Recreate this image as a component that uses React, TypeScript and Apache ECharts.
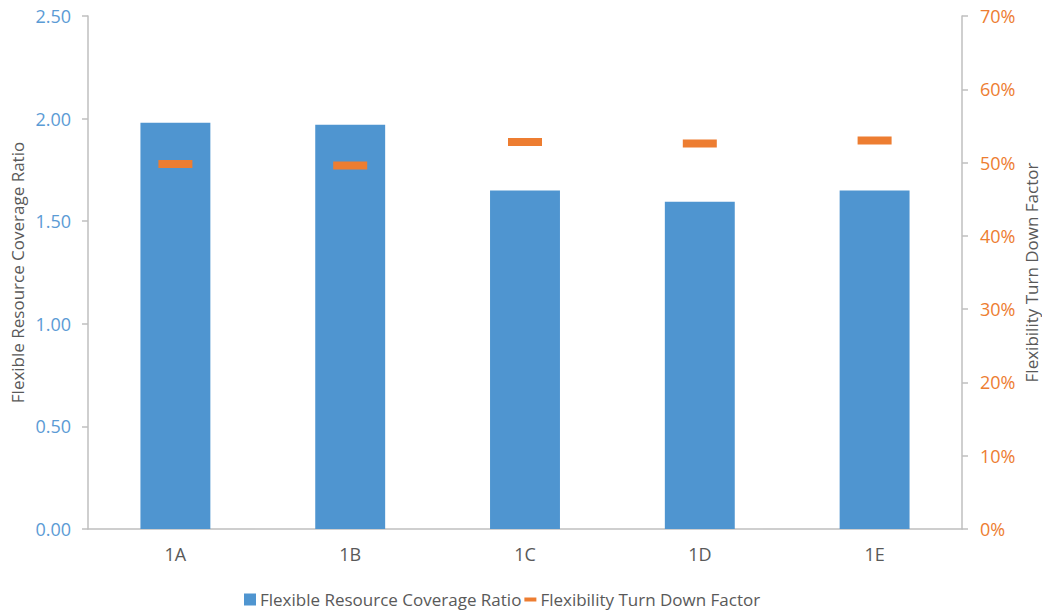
import React, { useEffect, useRef } from "react";
import * as echarts from "echarts";

const categories = ["1A", "1B", "1C", "1D", "1E"];
const coverageRatio = [1.98, 1.97, 1.65, 1.595, 1.65];
const turnDownFactor = [49.8, 49.6, 52.8, 52.6, 53.0];
const leftTicks = [0, 0.5, 1, 1.5, 2, 2.5];
const rightTicks = [0, 10, 20, 30, 40, 50, 60, 70];

const FONT = "'Open Sans', sans-serif";
const GRAY = "#595959";
const BLUE = "#4F95D0";
const ORANGE = "#ED7D31";
const AXIS = "#BFBFBF";

export default function App() {
  const ref = useRef<HTMLDivElement>(null);
  useEffect(() => {
    if (!ref.current) return;
    const chart = echarts.init(ref.current, undefined, { renderer: "svg" });
    chart.setOption({
      animation: false,
      textStyle: { fontFamily: FONT },
      grid: { left: 88, right: 80, top: 16, bottom: 82, containLabel: false, outerBoundsMode: "none" },
      legend: {
        top: 591,
        left: 244,
        padding: 0,
        itemWidth: 12,
        itemHeight: 12,
        itemGap: 3,
        textStyle: { color: GRAY, fontSize: 17, fontFamily: FONT, padding: [0, 0, 0, -1] },
        data: [
          { name: "Flexible Resource Coverage Ratio", icon: "rect" },
          { name: "Flexibility Turn Down Factor", icon: "path://M0,0 L12,0 L12,4 L0,4 Z" },
        ],
      },
      xAxis: {
        type: "category",
        data: categories,
        axisLine: { lineStyle: { color: AXIS, width: 1.5 } },
        axisTick: { show: false },
        axisLabel: { color: GRAY, fontSize: 18, margin: 16 },
      },
      yAxis: [
        {
          type: "value",
          min: leftTicks[0],
          max: leftTicks[leftTicks.length - 1],
          interval: 0.5,
          name: "Flexible Resource Coverage Ratio",
          nameLocation: "middle",
          nameGap: 62,
          nameMoveOverlap: false,
          nameTextStyle: { color: GRAY, fontSize: 17 },
          axisLine: { show: true, lineStyle: { color: AXIS, width: 1.5 } },
          axisTick: { show: true, length: 6, lineStyle: { color: AXIS, width: 1.5 } },
          splitLine: { show: false },
          axisLabel: {
            color: "#5B9BD5",
            fontSize: 18,
            margin: 17,
            formatter: (v: number) => v.toFixed(2),
          },
        },
        {
          type: "value",
          min: rightTicks[0],
          max: rightTicks[rightTicks.length - 1],
          interval: 10,
          position: "right",
          name: "Flexibility Turn Down Factor",
          nameLocation: "middle",
          nameGap: 61,
          nameRotate: 90,
          nameMoveOverlap: false,
          nameTextStyle: { color: GRAY, fontSize: 17 },
          axisLine: { show: true, lineStyle: { color: AXIS, width: 1.5 } },
          axisTick: { show: true, length: 6, lineStyle: { color: AXIS, width: 1.5 } },
          splitLine: { show: false },
          axisLabel: {
            color: ORANGE,
            fontSize: 18,
            margin: 18,
            formatter: (v: number) => v + "%",
          },
        },
      ],
      series: [
        {
          name: "Flexible Resource Coverage Ratio",
          type: "bar",
          data: coverageRatio,
          barWidth: "40%",
          itemStyle: { color: BLUE },
          yAxisIndex: 0,
        },
        {
          name: "Flexibility Turn Down Factor",
          type: "scatter",
          data: turnDownFactor,
          yAxisIndex: 1,
          symbol: "rect",
          symbolSize: [34, 8],
          itemStyle: { color: ORANGE, opacity: 1 },
          z: 5,
        },
      ],
    });
    return () => chart.dispose();
  }, []);
  return <div ref={ref} style={{ width: 1042, height: 611, position: "absolute", left: 0, top: 0 }} />;
}
